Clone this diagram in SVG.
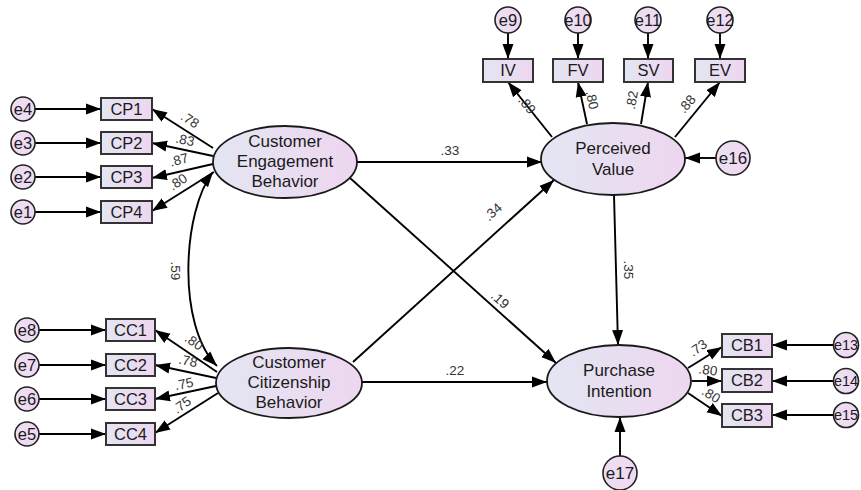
<svg xmlns="http://www.w3.org/2000/svg" width="861" height="490" viewBox="0 0 861 490">
<defs>
<linearGradient id="g" x1="0" y1="0" x2="1" y2="0">
<stop offset="0" stop-color="#e3e6f2"/>
<stop offset="1" stop-color="#eed6f0"/>
</linearGradient>
<linearGradient id="gc" x1="0" y1="0" x2="1" y2="0">
<stop offset="0" stop-color="#ebe0f2"/>
<stop offset="1" stop-color="#f0d8f2"/>
</linearGradient>
<marker id="a" markerUnits="userSpaceOnUse" markerWidth="16" markerHeight="12" refX="15" refY="6" orient="auto-start-reverse">
<path d="M0,0.5 L15,6 L0,11.5 z" fill="#000"/>
</marker>
</defs>
<style>
.lat{fill:url(#g);stroke:#1a1a1a;stroke-width:1.8}
.obs{fill:url(#g);stroke:#333;stroke-width:2}
.err{fill:url(#gc);stroke:#222;stroke-width:1.6}
.t{font-family:"Liberation Sans",Arial,sans-serif;fill:#1a1a1a;text-anchor:middle}
.big{font-size:17px}
.mid{font-size:16.5px}
.sm{font-size:13.5px;fill:#333}
.c{fill:none;stroke:#000;stroke-width:1.9;marker-end:url(#a)}
.d{fill:none;stroke:#000;stroke-width:1.9;marker-end:url(#a);marker-start:url(#a)}
</style>

<g id="connectors">
<path class="c" d="M35,109 L101,109"/>
<path class="c" d="M35,143 L101,143"/>
<path class="c" d="M35,177 L101,177"/>
<path class="c" d="M35,212 L101,212"/>
<path class="c" d="M39,330 L106,330"/>
<path class="c" d="M39,365 L106,365"/>
<path class="c" d="M39,399 L106,399"/>
<path class="c" d="M39,434 L106,434"/>
<path class="c" d="M213,148 L152,109"/>
<path class="c" d="M213,156 L152,143"/>
<path class="c" d="M213,164 L152,178"/>
<path class="c" d="M214,172 L152,211"/>
<path class="c" d="M217,372 L155,330"/>
<path class="c" d="M216,378 L155,365"/>
<path class="c" d="M216,386 L155,399"/>
<path class="c" d="M218,393 L155,433"/>
<path class="d" d="M213,172 C183,210 176,325 217,366"/>
<path class="c" d="M357,162 L542,162"/>
<path class="c" d="M350,178 L556,363"/>
<path class="c" d="M353,362 L554,180"/>
<path class="c" d="M362,382 L547,382"/>
<path class="c" d="M614,195 L618,345"/>
<path class="c" d="M716,158 L685,158"/>
<path class="c" d="M620,456 L620,417"/>
<path class="c" d="M552,137 L508,82"/>
<path class="c" d="M587,124 L578,82"/>
<path class="c" d="M641,124 L648,82"/>
<path class="c" d="M675,137 L720,82"/>
<path class="c" d="M508,33 L508,59"/>
<path class="c" d="M578,33 L578,59"/>
<path class="c" d="M648,33 L648,59"/>
<path class="c" d="M720,33 L720,59"/>
<path class="c" d="M688,368 L722,347"/>
<path class="c" d="M692,381 L722,381"/>
<path class="c" d="M688,393 L722,416"/>
<path class="c" d="M834,345 L772,345"/>
<path class="c" d="M834,381 L772,381"/>
<path class="c" d="M834,415 L772,415"/>
</g>

<g id="labels">
<text class="t sm" transform="translate(190,120) rotate(33)" y="4.5">.78</text>
<text class="t sm" transform="translate(185,140) rotate(12)" y="4.5">.83</text>
<text class="t sm" transform="translate(179,160) rotate(-15)" y="4.5">.87</text>
<text class="t sm" transform="translate(178,182) rotate(-33)" y="4.5">.80</text>
<text class="t sm" transform="translate(194,342) rotate(35)" y="4.5">.80</text>
<text class="t sm" transform="translate(188,361) rotate(12)" y="4.5">.78</text>
<text class="t sm" transform="translate(184,384) rotate(-12)" y="4.5">.75</text>
<text class="t sm" transform="translate(182,405) rotate(-35)" y="4.5">.75</text>
<text class="t sm" transform="translate(175,271) rotate(90)" y="4.5">.59</text>
<text class="t sm" transform="translate(450,150)" y="4.5">.33</text>
<text class="t sm" transform="translate(500,300) rotate(42)" y="4.5">.19</text>
<text class="t sm" transform="translate(493,212) rotate(-42)" y="4.5">.34</text>
<text class="t sm" transform="translate(455,370)" y="4.5">.22</text>
<text class="t sm" transform="translate(628,270) rotate(90)" y="4.5">.35</text>
<text class="t sm" transform="translate(527,105) rotate(51)" y="4.5">.89</text>
<text class="t sm" transform="translate(592,100) rotate(78)" y="4.5">.80</text>
<text class="t sm" transform="translate(632,100) rotate(-80)" y="4.5">.82</text>
<text class="t sm" transform="translate(687,104) rotate(-50)" y="4.5">.88</text>
<text class="t sm" transform="translate(698,348) rotate(-35)" y="4.5">.73</text>
<text class="t sm" transform="translate(708,370) rotate(8)" y="4.5">.80</text>
<text class="t sm" transform="translate(711,395) rotate(32)" y="4.5">.80</text>
</g>

<g id="CEB"><ellipse class="lat" cx="285" cy="162" rx="72" ry="36"/>
<text class="t big" x="285" y="147">Customer</text><text class="t big" x="285" y="167">Engagement</text><text class="t big" x="285" y="187">Behavior</text></g>
<g id="CCB"><ellipse class="lat" cx="289" cy="383" rx="73" ry="35"/>
<text class="t big" x="289" y="368">Customer</text><text class="t big" x="289" y="388">Citizenship</text><text class="t big" x="289" y="408">Behavior</text></g>
<g id="PV"><ellipse class="lat" cx="613" cy="159" rx="72" ry="36"/>
<text class="t big" x="613" y="154">Perceived</text><text class="t big" x="613" y="175">Value</text></g>
<g id="PI"><ellipse class="lat" cx="619" cy="381" rx="72" ry="36"/>
<text class="t big" x="619" y="376">Purchase</text><text class="t big" x="619" y="397">Intention</text></g>

<g id="CP1"><rect class="obs" x="101" y="98" width="51" height="22"/><text class="t mid" x="126.5" y="115">CP1</text></g>
<g id="CP2"><rect class="obs" x="101" y="132" width="51" height="22"/><text class="t mid" x="126.5" y="149">CP2</text></g>
<g id="CP3"><rect class="obs" x="101" y="166" width="51" height="22"/><text class="t mid" x="126.5" y="183">CP3</text></g>
<g id="CP4"><rect class="obs" x="101" y="201" width="51" height="22"/><text class="t mid" x="126.5" y="218">CP4</text></g>
<g id="CC1"><rect class="obs" x="106" y="319" width="49" height="22"/><text class="t mid" x="130.5" y="336">CC1</text></g>
<g id="CC2"><rect class="obs" x="106" y="354" width="49" height="22"/><text class="t mid" x="130.5" y="371">CC2</text></g>
<g id="CC3"><rect class="obs" x="106" y="388" width="49" height="22"/><text class="t mid" x="130.5" y="405">CC3</text></g>
<g id="CC4"><rect class="obs" x="106" y="423" width="49" height="22"/><text class="t mid" x="130.5" y="440">CC4</text></g>
<g id="IV"><rect class="obs" x="483" y="59" width="50" height="23"/><text class="t mid" x="508" y="76">IV</text></g>
<g id="FV"><rect class="obs" x="553" y="59" width="50" height="23"/><text class="t mid" x="578" y="76">FV</text></g>
<g id="SV"><rect class="obs" x="624" y="59" width="49" height="23"/><text class="t mid" x="648.5" y="76">SV</text></g>
<g id="EV"><rect class="obs" x="695" y="59" width="50" height="23"/><text class="t mid" x="720" y="76">EV</text></g>
<g id="CB1"><rect class="obs" x="722" y="334" width="50" height="23"/><text class="t mid" x="747" y="351">CB1</text></g>
<g id="CB2"><rect class="obs" x="722" y="369" width="50" height="23"/><text class="t mid" x="747" y="386">CB2</text></g>
<g id="CB3"><rect class="obs" x="722" y="404" width="50" height="23"/><text class="t mid" x="747" y="421">CB3</text></g>

<g id="e4"><circle class="err" cx="23" cy="109" r="12"/><text class="t mid" x="23" y="115">e4</text></g>
<g id="e3"><circle class="err" cx="23" cy="143" r="12"/><text class="t mid" x="23" y="149">e3</text></g>
<g id="e2"><circle class="err" cx="23" cy="177" r="12"/><text class="t mid" x="23" y="183">e2</text></g>
<g id="e1"><circle class="err" cx="23" cy="212" r="12"/><text class="t mid" x="23" y="218">e1</text></g>
<g id="e8"><circle class="err" cx="27" cy="330" r="12"/><text class="t mid" x="27" y="336">e8</text></g>
<g id="e7"><circle class="err" cx="27" cy="365" r="12"/><text class="t mid" x="27" y="371">e7</text></g>
<g id="e6"><circle class="err" cx="27" cy="399" r="12"/><text class="t mid" x="27" y="405">e6</text></g>
<g id="e5"><circle class="err" cx="27" cy="434" r="12"/><text class="t mid" x="27" y="440">e5</text></g>
<g id="e9"><circle class="err" cx="508" cy="20" r="13"/><text class="t mid" x="508" y="26">e9</text></g>
<g id="e10"><circle class="err" cx="578" cy="20" r="13"/><text class="t mid" x="578" y="26">e10</text></g>
<g id="e11"><circle class="err" cx="648" cy="20" r="13"/><text class="t mid" x="648" y="26">e11</text></g>
<g id="e12"><circle class="err" cx="720" cy="20" r="13"/><text class="t mid" x="720" y="26">e12</text></g>
<g id="e16"><circle class="err" cx="733" cy="158" r="17"/><text class="t big" x="733" y="164">e16</text></g>
<g id="e17"><circle class="err" cx="620" cy="473" r="17"/><text class="t big" x="620" y="479">e17</text></g>
<g id="e13"><circle class="err" cx="846" cy="345" r="12.5"/><text class="t" style="font-size:14.5px" x="846" y="350">e13</text></g>
<g id="e14"><circle class="err" cx="846" cy="381" r="12.5"/><text class="t" style="font-size:14.5px" x="846" y="386">e14</text></g>
<g id="e15"><circle class="err" cx="846" cy="415" r="12.5"/><text class="t" style="font-size:14.5px" x="846" y="420">e15</text></g>
</svg>
